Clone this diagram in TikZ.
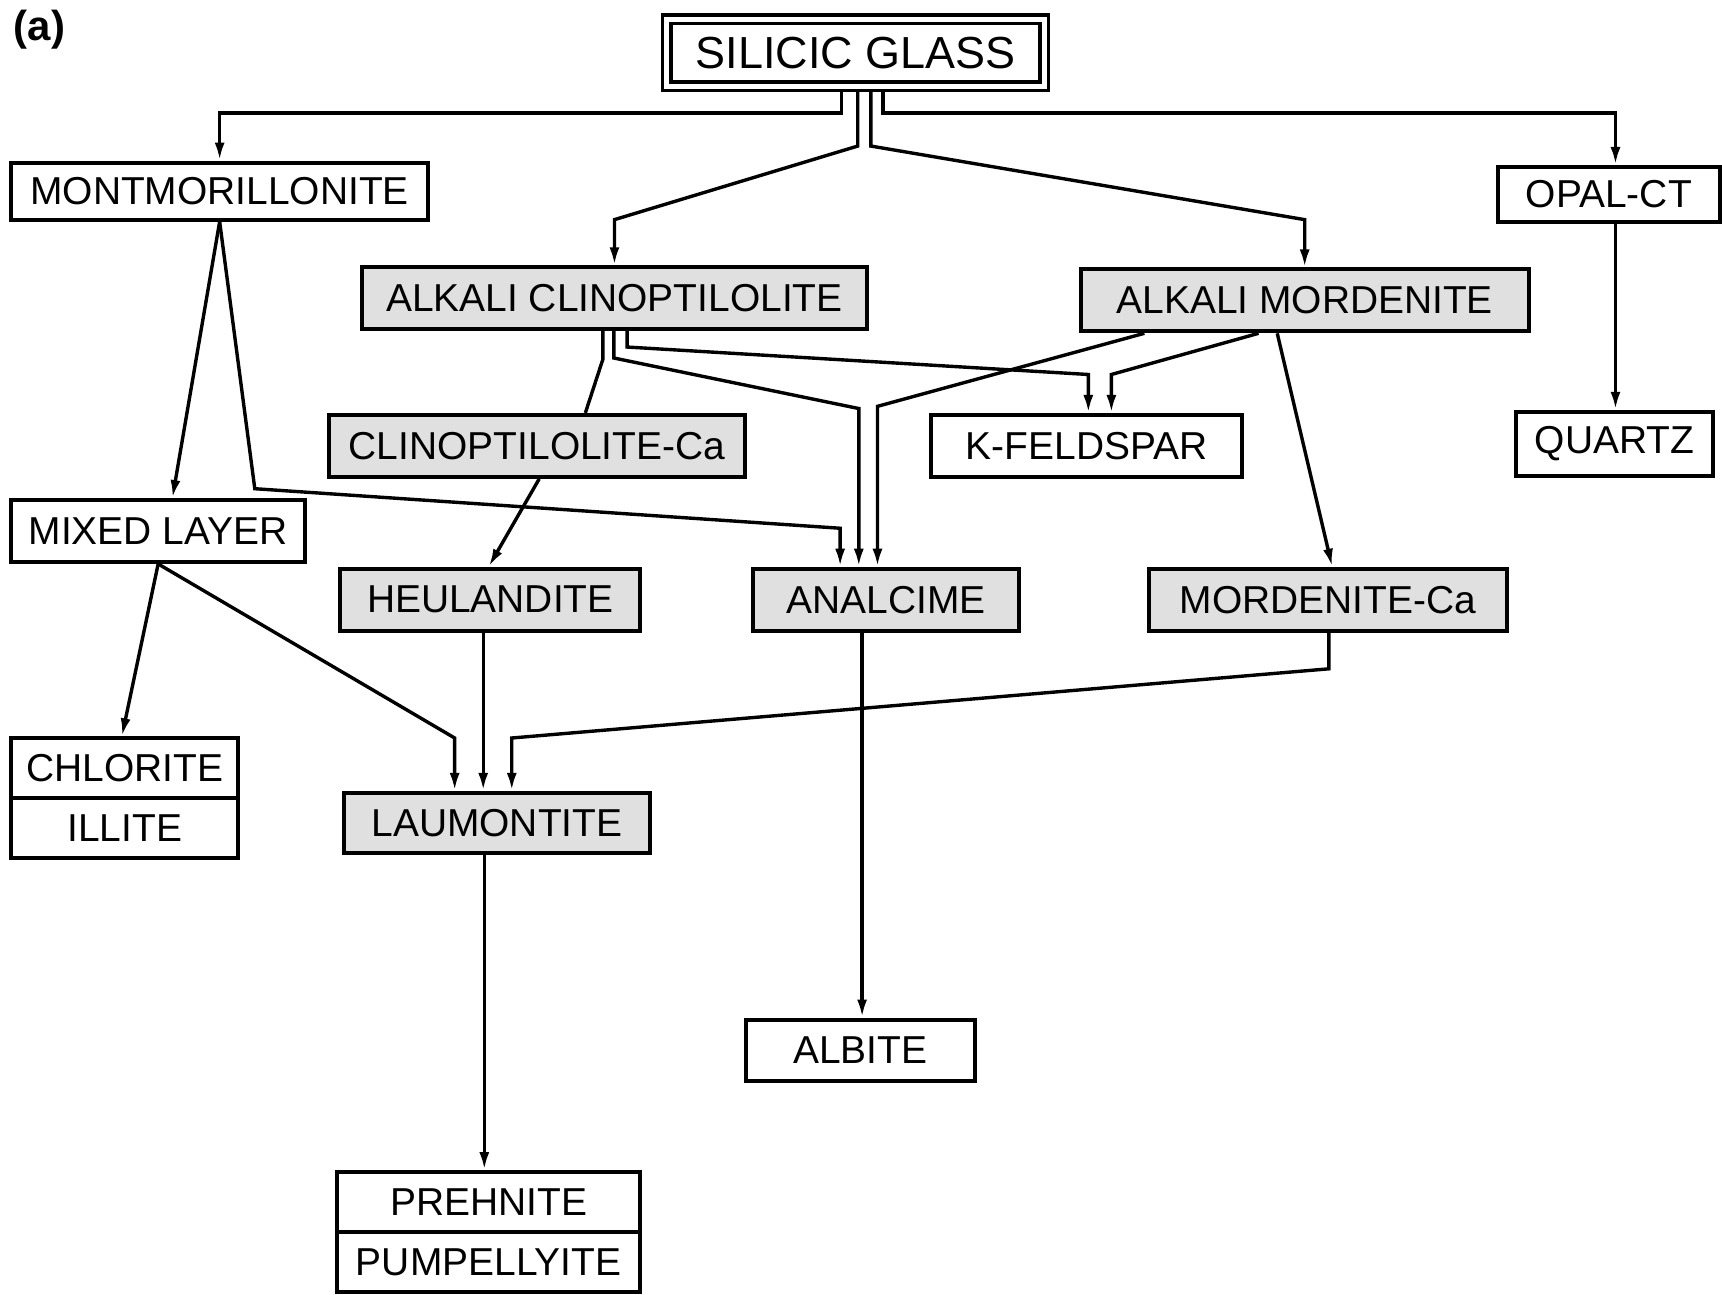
\documentclass[tikz,border=0pt]{standalone}
\usepackage{fontspec}
\setmainfont{Liberation Sans}
\usetikzlibrary{arrows.meta}

\begin{document}
\begin{tikzpicture}[x=0.55pt, y=-0.55pt, line width=1.7pt, >={Latex[length=9pt,width=5pt]}, block/.style={rectangle, draw, line width=2pt, inner sep=0pt, minimum height=31pt, font=\fontsize{19.5}{22}\selectfont}, zeo/.style={block, fill=black!12}]
    \useasboundingbox (0,0) rectangle (1568,1179);
    \node[font=\bfseries\fontsize{21}{24}\selectfont] (label) at (36,27) {(a)};
    \node[block, double, double distance=2.4pt, line width=1.8pt, outer sep=3pt, minimum width=189pt, minimum height=33.5pt, font=\fontsize{22.5}{26}\selectfont] (glass) at (779,48) {SILICIC GLASS};

    \node[block, minimum width=209pt, minimum height=28.6pt] (montm) at (200,174) {MONTMORILLONITE};
    \node[block, minimum width=111pt, minimum height=27.5pt] (opal) at (1465,177) {OPAL-CT};
    \node[zeo, minimum width=252.5pt] (aclino) at (559.5,271.5) {ALKALI CLINOPTILOLITE};
    \node[zeo, minimum width=224.4pt] (amord) at (1188,273.5) {ALKALI MORDENITE};
    \node[zeo, minimum width=208pt] (clinoca) at (489,406) {CLINOPTILOLITE-Ca};
    \node[block, minimum width=155.7pt] (kfeld) at (989.5,406) {K-FELDSPAR};
    \node[block, minimum width=99pt, minimum height=32pt] (quartz) at (1470,404) {QUARTZ};
    \node[block, minimum width=147.4pt] (mixed) at (144,483.5) {MIXED LAYER};
    \node[zeo, minimum width=150.2pt] (heul) at (446.5,546) {HEULANDITE};
    \node[zeo, minimum width=133.1pt] (analc) at (807,546) {ANALCIME};
    \node[zeo, minimum width=179.3pt] (mordca) at (1209,546) {MORDENITE-Ca};
    \node[block, minimum width=113.9pt, minimum height=30pt] (chlorite) at (113.5,699.5) {CHLORITE};
    \node[block, minimum width=113.9pt, minimum height=30pt] (illite) at (113.5,754) {ILLITE};
    \node[zeo, minimum width=153.5pt, minimum height=30.3pt] (laum) at (452.5,749.5) {LAUMONTITE};
    \node[block, minimum width=115pt] (albite) at (783.5,956.5) {ALBITE};
    \node[block, minimum width=151.8pt, minimum height=30pt] (prehn) at (445,1094.5) {PREHNITE};
    \node[block, minimum width=151.8pt, minimum height=30pt] (pump) at (445,1149.5) {PUMPELLYITE};

    \draw[->] (glass.south -| 766,0) |- (montm.north |- 0,103) -- (montm.north);
    \draw[->] (glass.south -| 804,0) |- (1471,103) -- (opal.north -| 1471,0);
    \draw[->] (glass.south -| 781,0) -- (781,133) -- (aclino.north |- 0,200) -- (aclino.north);
    \draw[->] (glass.south -| 793,0) -- (793,133) -- (amord.north |- 0,200) -- (amord.north);
    \draw[->] (opal.south -| 1471,0) -- (quartz.north -| 1471,0);

    \draw[->] (montm.south) -- (mixed.north -| 157,0);
    \draw[->] (montm.south) -- (232,445) -- (765,481) -- (analc.north -| 765,0);
    \draw (aclino.south -| 549,0) -- (549,327) -- (clinoca.north -| 533,0);
    \draw[->] (aclino.south -| 559,0) -- (559,326) -- (782,372) -- (analc.north -| 782,0);
    \draw[->] (aclino.south -| 571,0) -- (571,316) -- (991,341) -- (kfeld.north -| 991,0);
    \draw[->] (amord.south -| 1042,0) -- (799,370) -- (analc.north -| 799,0);
    \draw[->] (amord.south -| 1146,0) -- (1012,341) -- (kfeld.north -| 1012,0);
    \draw[->] (amord.south -| 1163,0) -- (mordca.north -| 1213,0);
    \draw[->] (clinoca.south -| 491,0) -- (heul.north -| 445,0);

    \draw[->] (mixed.south) -- (chlorite.north -| 111,0);
    \draw[->] (mixed.south) -- (414,672) -- (laum.north -| 414,0);
    \draw[->] (heul.south -| 440,0) -- (laum.north -| 440,0);
    \draw[->] (mordca.south -| 1210,0) -- (1210,609) -- (466,672) -- (laum.north -| 466,0);
    \draw[->] (analc.south -| 785,0) -- (albite.north -| 785,0);
    \draw[->] (laum.south -| 441,0) -- (prehn.north -| 441,0);
\end{tikzpicture}
\end{document}
